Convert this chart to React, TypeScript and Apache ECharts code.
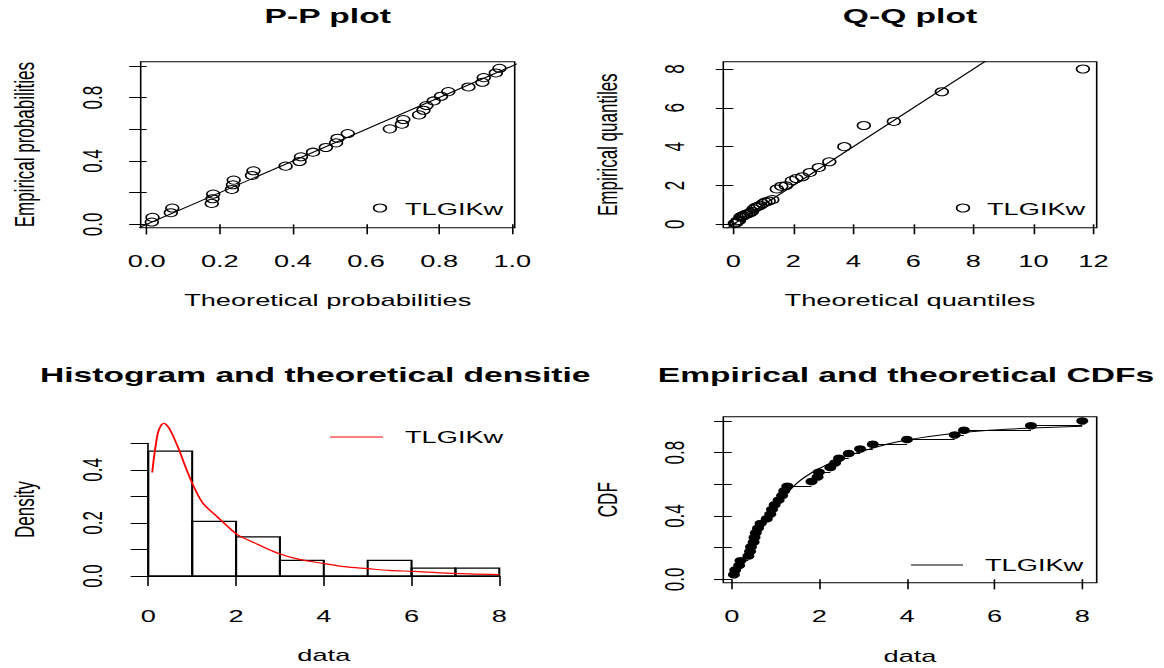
import React, { useEffect, useRef } from "react";
import * as echarts from "echarts";

// The reference is an R graphics device image stretched horizontally; we draw in
// an unstretched coordinate space and scale the chart box horizontally.
const SX = 1.6;
const PAGE_W = 1164;
const PAGE_H = 668;
const FONT = '"Liberation Sans", Arial, Helvetica, sans-serif';

const legendName = "TLGIKw";

// sorted sample (empirical quantiles)
const sampleData = [
  0.05, 0.08, 0.17, 0.2, 0.38, 0.42, 0.44, 0.5, 0.52, 0.55, 0.6, 0.66, 0.8, 0.88, 0.92, 0.98,
  1.07, 1.15, 1.2, 1.27, 1.82, 1.96, 1.99, 2.25, 2.36, 2.45, 2.67, 2.93, 3.22, 4.0, 5.09, 5.3,
  6.83, 8.0,
];
// theoretical probabilities F(x_i) (P-P plot x)
const ppTheoretical = [
  0.014, 0.016, 0.066, 0.07, 0.178, 0.18, 0.182, 0.233, 0.236, 0.238, 0.288, 0.292, 0.38, 0.418,
  0.422, 0.455, 0.49, 0.518, 0.522, 0.55, 0.665, 0.698, 0.702, 0.745, 0.757, 0.765, 0.785, 0.805,
  0.825, 0.88, 0.918, 0.922, 0.955, 0.965,
];
// theoretical quantiles (Q-Q plot x)
const qqTheoretical = [
  0.05, 0.1, 0.14, 0.19, 0.24, 0.29, 0.34, 0.39, 0.44, 0.5, 0.56, 0.62, 0.68, 0.75, 0.82, 0.9,
  0.98, 1.07, 1.18, 1.3, 1.45, 1.6, 1.75, 1.95, 2.1, 2.3, 2.55, 2.85, 3.2, 3.7, 4.35, 5.35, 6.95,
  11.65,
];
// histogram
const histBreaks = [0, 1, 2, 3, 4, 5, 6, 7, 8];
const histCounts = [16, 7, 5, 2, 0, 2, 1, 1];
// fitted density curve
const densX = [
  0.09, 0.14, 0.22, 0.3, 0.36, 0.46, 0.53, 0.69, 0.85, 1.0, 1.24, 1.56, 1.79, 2.03, 2.5, 2.97,
  3.44, 3.99, 4.46, 5.01, 5.49, 6.03, 6.82, 8.0,
];
const densY = [
  0.39, 0.46, 0.54, 0.57, 0.575, 0.56, 0.54, 0.48, 0.41, 0.35, 0.275, 0.225, 0.19, 0.156, 0.119,
  0.085, 0.0625, 0.0475, 0.035, 0.0275, 0.021, 0.0175, 0.011, 0.005,
];
// fitted CDF curve
const cdfX = [
  0.05, 0.1, 0.2, 0.3, 0.4, 0.5, 0.6, 0.8, 1.0, 1.25, 1.5, 1.75, 2.0, 2.5, 3.0, 3.5, 4.0, 5.0, 6.0,
  7.0, 8.0,
];
const cdfY = [
  0.014, 0.035, 0.075, 0.125, 0.17, 0.225, 0.275, 0.37, 0.45, 0.54, 0.61, 0.66, 0.7, 0.765, 0.81,
  0.85, 0.88, 0.92, 0.943, 0.957, 0.967,
];
const refLineEnds = [-1, 20];

// ticks and labels
const probTicks = [0, 0.2, 0.4, 0.6, 0.8, 1.0];
const probXLabels = [0, 0.2, 0.4, 0.6, 0.8, 1.0];
const probYLabels = [0, 0.4, 0.8];
const qqXTicks = [0, 2, 4, 6, 8, 10, 12];
const qqYTicks = [0, 2, 4, 6, 8];
const dataTicks = [0, 2, 4, 6, 8];
const densTicks = [0, 0.1, 0.2, 0.3, 0.4, 0.5];
const densLabels = [0, 0.2, 0.4];

const px = (x: number) => x / SX;
const txt = { color: "#000", fontFamily: FONT, fontSize: 17 };
const fmt1 = (v: number) => v.toFixed(1);
const fmt0 = (v: number) => String(Math.round(v));

function xAx(grid: number, min: number, max: number, ticks: number[], labels: number[], fmt: any, name: string, extra: any = {}) {
  return {
    type: "value",
    gridIndex: grid,
    min,
    max,
    axisLine: { show: false },
    splitLine: { show: false },
    axisTick: { show: true, length: 10, customValues: ticks, lineStyle: { color: "#000", width: 1 } },
    axisLabel: { customValues: labels, formatter: fmt, margin: 25, ...txt },
    name,
    nameLocation: "middle",
    nameGap: 64,
    nameTextStyle: txt,
    ...extra,
  };
}
function yAx(grid: number, min: number, max: number, ticks: number[], labels: number[], fmt: any, name: string, extra: any = {}) {
  return {
    type: "value",
    gridIndex: grid,
    min,
    max,
    axisLine: { show: false },
    splitLine: { show: false },
    axisTick: { show: true, length: 11, customValues: ticks, lineStyle: { color: "#000", width: 1 } },
    axisLabel: { customValues: labels, formatter: fmt, margin: 22, rotate: 90, ...txt },
    name,
    nameLocation: "middle",
    nameGap: 64,
    nameTextStyle: txt,
    ...extra,
  };
}

export default function App() {
  const ref = useRef<HTMLDivElement>(null);
  useEffect(() => {
    const el = ref.current!;
    const chart = echarts.init(el, null, { renderer: "svg", width: PAGE_W / SX, height: PAGE_H });
    const n = sampleData.length;
    const boxGrid = { show: true, borderColor: "#000", borderWidth: 1, backgroundColor: "transparent" };

    const ppPoints = sampleData.map((_, i) => [ppTheoretical[i], (i + 0.5) / n]);
    const qqPoints = sampleData.map((v, i) => [qqTheoretical[i], v]);
    const histData = histCounts.map((c, i) => [
      histBreaks[i],
      histBreaks[i + 1],
      c / (n * (histBreaks[i + 1] - histBreaks[i])),
    ]);
    const densPoints = densX.map((x, i) => [x, densY[i]]);
    const cdfPoints = cdfX.map((x, i) => [x, cdfY[i]]);
    const ecdfPoints = sampleData.map((v, i) => [v, (i + 1) / n]);
    const ecdfSteps = sampleData.slice(0, -1).map((v, i) => ({
      coords: [
        [v, (i + 1) / n],
        [sampleData[i + 1], (i + 1) / n],
      ],
    }));
    const refLine = refLineEnds.map((v) => [v, v]);

    const openCircle = {
      symbol: "circle",
      symbolSize: 8,
      itemStyle: { color: "rgba(0,0,0,0)", borderColor: "#000", borderWidth: 1, opacity: 1 },
    };

    const option: any = {
      animation: false,
      backgroundColor: "#fff",
      grid: [
        { left: px(140.7), top: 61.7, width: px(374), height: 166, ...boxGrid },
        { left: px(723.3), top: 61.7, width: px(373.4), height: 166, ...boxGrid },
        { left: px(148.3), top: 443.3, width: px(351), height: 132.7, show: false },
        { left: px(723.3), top: 416.7, width: px(373.4), height: 166, ...boxGrid },
      ],
      xAxis: [
        xAx(0, -0.0164, 1.0066, probTicks, probXLabels, fmt1, "Theoretical probabilities"),
        xAx(1, -0.333, 12.11, qqXTicks, qqXTicks, fmt0, "Theoretical quantiles"),
        xAx(2, 0, 8, dataTicks, dataTicks, fmt0, "data", {
          axisLine: { show: true, lineStyle: { color: "#000", width: 1 } },
          offset: 7,
          nameGap: 64,
        }),
        xAx(3, -0.192, 8.33, dataTicks, dataTicks, fmt0, "data", { nameGap: 65 }),
      ],
      yAxis: [
        yAx(0, -0.021, 1.027, probTicks, probYLabels, fmt1, "Empirical probabilities"),
        yAx(1, -0.175, 8.377, qqYTicks, qqYTicks, fmt0, "Empirical quantiles"),
        yAx(2, 0, 0.5, densTicks, densLabels, fmt1, "Density", {
          axisLine: { show: true, lineStyle: { color: "#000", width: 1 } },
          offset: px(7.6),
        }),
        yAx(3, -0.021, 1.027, probTicks, probYLabels, fmt1, "CDF"),
      ],
      series: [
        {
          type: "line",
          xAxisIndex: 0,
          yAxisIndex: 0,
          data: refLine,
          symbol: "none",
          lineStyle: { color: "#000", width: 1 },
          clip: true,
          silent: true,
        },
        { type: "scatter", name: legendName, xAxisIndex: 0, yAxisIndex: 0, data: ppPoints, ...openCircle, silent: true },
        {
          type: "line",
          xAxisIndex: 1,
          yAxisIndex: 1,
          data: refLine,
          symbol: "none",
          lineStyle: { color: "#000", width: 1 },
          clip: true,
          silent: true,
        },
        { type: "scatter", name: legendName, xAxisIndex: 1, yAxisIndex: 1, data: qqPoints, ...openCircle, silent: true },
        {
          type: "custom",
          xAxisIndex: 2,
          yAxisIndex: 2,
          data: histData,
          encode: { x: [0, 1], y: 2 },
          clip: false,
          silent: true,
          renderItem: (params: any, api: any) => {
            const p0 = api.coord([api.value(0), 0]);
            const p1 = api.coord([api.value(1), api.value(2)]);
            return {
              type: "rect",
              shape: { x: p0[0], y: p1[1], width: p1[0] - p0[0], height: p0[1] - p1[1] },
              style: { fill: "none", stroke: "#000", lineWidth: 1.3 },
            };
          },
        },
        {
          type: "line",
          name: legendName,
          xAxisIndex: 2,
          yAxisIndex: 2,
          data: densPoints,
          symbol: "none",
          smooth: 0.3,
          clip: false,
          lineStyle: { color: "#ff0000", width: 1.2 },
          silent: true,
        },
        {
          type: "lines",
          coordinateSystem: "cartesian2d",
          xAxisIndex: 3,
          yAxisIndex: 3,
          data: ecdfSteps,
          lineStyle: { color: "#000", width: 1, opacity: 1 },
          silent: true,
        },
        {
          type: "line",
          name: legendName,
          xAxisIndex: 3,
          yAxisIndex: 3,
          data: cdfPoints,
          symbol: "none",
          smooth: true,
          lineStyle: { color: "#000", width: 1 },
          silent: true,
        },
        {
          type: "scatter",
          xAxisIndex: 3,
          yAxisIndex: 3,
          data: ecdfPoints,
          symbol: "circle",
          symbolSize: 7.5,
          itemStyle: { color: "#000", opacity: 1 },
          silent: true,
        },
      ],
      graphic: [
        // titles
        {
          type: "text",
          x: px(327.7),
          y: 5,
          style: { text: "P-P plot", align: "center", verticalAlign: "top", fontFamily: FONT, fontSize: 21, fontWeight: "bold", fill: "#000" },
        },
        {
          type: "text",
          x: px(910),
          y: 5,
          style: { text: "Q-Q plot", align: "center", verticalAlign: "top", fontFamily: FONT, fontSize: 21, fontWeight: "bold", fill: "#000" },
        },
        {
          type: "text",
          x: px(40),
          y: 364,
          style: {
            text: "Histogram and theoretical densitie",
            align: "left",
            verticalAlign: "top",
            fontFamily: FONT,
            fontSize: 21,
            fontWeight: "bold",
            fill: "#000",
          },
        },
        {
          type: "text",
          x: px(906),
          y: 364,
          style: {
            text: "Empirical and theoretical CDFs",
            align: "center",
            verticalAlign: "top",
            fontFamily: FONT,
            fontSize: 21,
            fontWeight: "bold",
            fill: "#000",
          },
        },
        // legends
        { type: "circle", shape: { cx: px(380), cy: 208, r: 4 }, style: { fill: "none", stroke: "#000", lineWidth: 1 } },
        { type: "text", x: px(405), y: 209, style: { text: legendName, align: "left", verticalAlign: "middle", fill: "#000", fontFamily: FONT, fontSize: 17 } },
        { type: "circle", shape: { cx: px(963), cy: 208, r: 4 }, style: { fill: "none", stroke: "#000", lineWidth: 1 } },
        { type: "text", x: px(987), y: 209, style: { text: legendName, align: "left", verticalAlign: "middle", fill: "#000", fontFamily: FONT, fontSize: 17 } },
        { type: "line", shape: { x1: px(330), y1: 437, x2: px(383), y2: 437 }, style: { stroke: "#ff0000", lineWidth: 1.2 } },
        { type: "text", x: px(405), y: 437, style: { text: legendName, align: "left", verticalAlign: "middle", fill: "#000", fontFamily: FONT, fontSize: 17 } },
        { type: "line", shape: { x1: px(911), y1: 565, x2: px(963), y2: 565 }, style: { stroke: "#000", lineWidth: 1 } },
        { type: "text", x: px(985), y: 565, style: { text: legendName, align: "left", verticalAlign: "middle", fill: "#000", fontFamily: FONT, fontSize: 17 } },
      ],
    };
    chart.setOption(option);
    return () => chart.dispose();
  }, []);

  return (
    <div
      ref={ref}
      style={{
        position: "absolute",
        left: 0,
        top: 0,
        width: PAGE_W / SX,
        height: PAGE_H,
        transform: `scaleX(${SX})`,
        transformOrigin: "0 0",
        background: "#fff",
      }}
    />
  );
}
